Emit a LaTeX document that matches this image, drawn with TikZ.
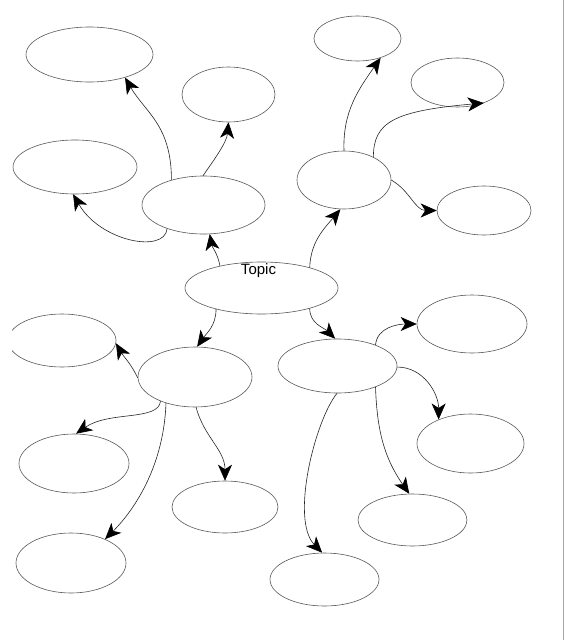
\documentclass[tikz,border=0pt]{standalone}
\usepackage{fontspec}
\setmainfont{Liberation Sans}
\usetikzlibrary{arrows.meta,shapes.geometric}
\tikzset{
  bub/.style 2 args={draw=black!65, line width=0.6pt, ellipse, inner sep=0pt,
    minimum width=#1pt, minimum height=#2pt},
  conn/.style={draw=black!85, line width=0.6pt,
    -{Stealth[length=16pt,width=14pt,inset=4.5pt,color=black]}},
  frameline/.style={draw=black!35, line width=1pt},
  topictext/.style={inner sep=0pt, font=\fontsize{15}{17}\selectfont, text=black}
}
\begin{document}
\begin{tikzpicture}[x=1pt,y=1pt]
\useasboundingbox (0,0) rectangle (565,-640);
\fill[white] (0,0) rectangle (565,-640);
\begin{scope}
\clip (12,0) rectangle (565,-640);
% nodes
\node[bub={153}{52}] (topic) at (261.5,-288) {};
\node[topictext] (topiclabel) at (258.5,-271) {Topic};
\node[bub={123}{58}] (ul)  at (203.5,-205) {};
\node[bub={127}{55}] (tl)  at (89.5,-54.5) {};
\node[bub={93}{55}]  (tm)  at (228.5,-94.5) {};
\node[bub={124}{54}] (lm)  at (75,-167) {};
\node[bub={94}{58}]  (ur)  at (344,-180) {};
\node[bub={87}{45}]  (rt1) at (357.5,-38.5) {};
\node[bub={93}{49}]  (rt2) at (457.5,-82.5) {};
\node[bub={94}{49}]  (rt3) at (484,-210.5) {};
\node[bub={114}{60}] (ll)  at (195,-377) {};
\node[bub={108}{53}] (llc) at (62,-340.5) {};
\node[bub={110}{59}] (ll2) at (74,-463.5) {};
\node[bub={110}{60}] (ll3) at (71,-563) {};
\node[bub={106}{52}] (lmid) at (225,-507) {};
\node[bub={119}{54}] (lr)  at (337.5,-366) {};
\node[bub={110}{58}] (lr1) at (472,-324) {};
\node[bub={107}{59}] (lr2) at (470.5,-443.5) {};
\node[bub={109}{52}] (lr3) at (412.5,-520) {};
\node[bub={109}{53}] (bot) at (324.5,-579.5) {};
% connectors
\draw[conn] (topic.152) to[out=100,in=-80] (ul.-78);
\draw[conn] (ul.142) .. controls +(90:55) and +(-60:40) .. (tl.-33);
\draw[conn] (ul.91) .. controls +(55:20) and +(-95:20) .. (tm.-90);
\draw[conn] (ul.213) .. controls +(-95:25) and +(-60:55) .. (lm.-94);
\draw[conn] (topic.23) to[out=88,in=-130] (ur.-97);
\draw[conn] (ur.90) to[out=92,in=-125] (rt1.-40);
\draw[conn] (ur.38) .. controls +(90:35) and +(185:90) .. (rt2.-38);
\draw[conn] (ur.0) to[out=-30,in=180] (rt3.180);
\draw[conn] (topic.205) to[out=-90,in=55] (ll.86);
\draw[conn] (ll.181) to[out=115,in=-60] (llc.-3);
\draw[conn] (ll.215) .. controls +(-95:20) and +(35:40) .. (ll2.86);
\draw[conn] (ll.222) .. controls +(-92:60) and +(45:45) .. (ll3.35);
\draw[conn] (ll.-88) to[out=-75,in=90] (lmid.90);
\draw[conn] (topic.-23) to[out=-90,in=135] (lr.95);
\draw[conn] (lr.29) to[out=85,in=180] (lr1.180);
\draw[conn] (lr.-1) to[out=0,in=90] (lr2.143);
\draw[conn] (lr.-29) to[out=-88,in=125] (lr3.97);
\draw[conn] (lr.-91) .. controls +(-22,-27) and +(-32,33) .. (bot.95);
\end{scope}
\draw[frameline] (563.5,0) -- (563.5,-640);
\end{tikzpicture}
\end{document}
